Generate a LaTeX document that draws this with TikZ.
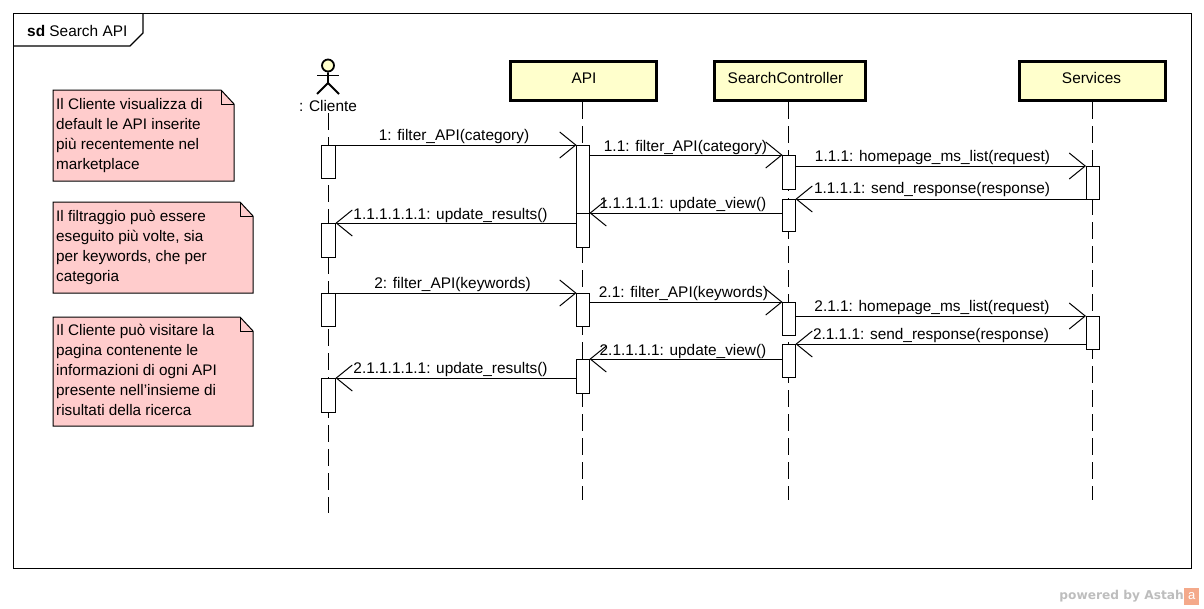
\documentclass[tikz,border=0pt]{standalone}
\usepackage{fontspec}
\setmainfont{Liberation Sans}
\newfontfamily\footfont{DejaVu Sans}
\usetikzlibrary{arrows.meta,positioning}
\definecolor{headyellow}{HTML}{FFFFCC}
\definecolor{notepink}{HTML}{FFCCCC}
\definecolor{footgray}{HTML}{BDBDBD}
\definecolor{logoorange}{HTML}{F4A98A}

\begin{document}
\begin{tikzpicture}[
  x=1pt, y=-1pt,
  header/.style={draw=black, line width=3pt, fill=headyellow, minimum height=39pt,
                 inner sep=0pt, outer sep=0pt},
  lifeline/.style={draw=black, line width=1pt, dash pattern=on 17pt off 7pt},
  act/.style={draw=black, line width=1pt, fill=white, anchor=north, inner sep=0pt, outer sep=0pt, minimum width=13pt},
  arr/.style={-{Straight Barb[length=16pt,width=26pt,line width=1pt]}, line width=1pt, draw=black},
  msg/.style={inner sep=0pt, font=\fontsize{15.4}{17}\selectfont},
  notebox/.style={draw=black, line width=1pt, fill=notepink},
  notetext/.style={anchor=north west, inner sep=0pt, align=left, font=\fontsize{15.3}{20}\selectfont}
]
\useasboundingbox (0,0) rectangle (1204,608);

% frame and its tab
\draw[line width=1.2pt] (13.5,13.5) rectangle (1191.5,568.5);
\draw[line width=1.2pt] (143,13.5) -- (143,33) -- (130,46) -- (13.5,46);
\node[msg, anchor=base west] (frametitle) at (27,36) {\textbf{sd} Search API};

% notes
\draw[notebox] (53,90) -- (221,90) -- (234,104) -- (234,181) -- (53,181) -- cycle;
\draw[line width=1pt] (221,90) -- (221,104) -- (234,104);
\node[notetext] (noteview) at (56,98) {Il Cliente visualizza di\\default le API inserite\\più recentemente nel\\marketplace};
\draw[notebox] (53,202) -- (240,202) -- (253,216) -- (253,293) -- (53,293) -- cycle;
\draw[line width=1pt] (240,202) -- (240,216) -- (253,216);
\node[notetext] (notefilter) at (56,210) {Il filtraggio può essere\\eseguito più volte, sia\\per keywords, che per\\categoria};
\draw[notebox] (53,317) -- (240,317) -- (253,331) -- (253,426) -- (53,426) -- cycle;
\draw[line width=1pt] (240,317) -- (240,331) -- (253,331);
\node[notetext] (notevisit) at (56,324) {Il Cliente può visitare la\\pagina contenente le\\informazioni di ogni API\\presente nell'insieme di\\risultati della ricerca};

% actor
\node[draw=black, line width=1.8pt, fill=headyellow, circle, minimum size=12pt, inner sep=0pt] (clienthead) at (328,65.5) {};
\draw[line width=1.8pt] (clienthead.south) -- (328,83) -- (317,94);
\draw[line width=1.8pt] (328,83) -- (339,94);
\draw[line width=1.8pt] (317,75.5) -- (339,75.5);
\node[msg] (cliente) at (328,106) {: Cliente};

% lifeline heads
\node[header, minimum width=146pt] (api) at (583,80.5) {};
\node[msg] (apilabel) at (584,78) {API};
\node[header, minimum width=151pt] (search) at (789.5,80.5) {};
\node[msg] (searchlabel) at (785.5,78) {SearchController};
\node[header, minimum width=146pt] (services) at (1092,80.5) {};
\node[msg] (serviceslabel) at (1091.5,78) {Services};

\coordinate (clientetop) at (328,113);
\coordinate (clienteend) at (328,513);
\coordinate (apitop) at (582,102);
\coordinate (apiend) at (582,500);
\coordinate (searchtop) at (788,102);
\coordinate (searchend) at (788,500);
\coordinate (servicestop) at (1092,102);
\coordinate (servicesend) at (1092,500);
\draw[lifeline] (clientetop) -- (clienteend);
\draw[lifeline] (apitop) -- (apiend);
\draw[lifeline] (searchtop) -- (searchend);
\draw[lifeline] (servicestop) -- (servicesend);

% activations
\node[act, minimum width=14pt, minimum height=33pt] (clientA) at (328.5,145) {};
\node[act, minimum width=14pt, minimum height=34pt] (clientB) at (328.5,223) {};
\node[act, minimum width=14pt, minimum height=33pt] (clientC) at (328.5,293) {};
\node[act, minimum width=14pt, minimum height=34pt] (clientD) at (328.5,378) {};
\node[act, minimum height=68pt] (apiA) at (583,145) {};
\node[act, minimum height=34pt] (apiB) at (583,213) {};
\node[act, minimum height=33pt] (apiC) at (583,293) {};
\node[act, minimum height=34pt] (apiD) at (583,359) {};
\node[act, minimum height=34pt] (searchA) at (789,155) {};
\node[act, minimum height=32pt] (searchB) at (789,199) {};
\node[act, minimum height=33pt] (searchC) at (789,302) {};
\node[act, minimum height=33pt] (searchD) at (789,344) {};
\node[act, minimum height=33pt] (servicesA) at (1092.5,166) {};
\node[act, minimum height=33pt] (servicesB) at (1092.5,316) {};

% messages
\draw[arr] (clientA.north east) -- (apiA.north west);
\draw[arr] (apiA.east |- searchA.north) -- (searchA.north west);
\draw[arr] (searchA.east |- servicesA.north) -- (servicesA.north west);
\draw[arr] (servicesA.west |- searchB.north) -- (searchB.north east);
\draw[arr] (searchB.west |- apiB.north) -- (apiB.north east);
\draw[arr] (apiB.west |- clientB.north) -- (clientB.north east);
\draw[arr] (clientC.north east) -- (apiC.north west);
\draw[arr] (apiC.east |- searchC.north) -- (searchC.north west);
\draw[arr] (searchC.east |- servicesB.north) -- (servicesB.north west);
\draw[arr] (servicesB.west |- searchD.north) -- (searchD.north east);
\draw[arr] (searchD.west |- apiD.north) -- (apiD.north east);
\draw[arr] (apiD.west |- clientD.north) -- (clientD.north east);

\node[msg] (msgA) at (454,136.5) {1: filter\_API(category)};
\node[msg] (msgB) at (685.5,147.5) {1.1: filter\_API(category)};
\node[msg] (msgC) at (932.5,157.5) {1.1.1: homepage\_ms\_list(request)};
\node[msg] (msgD) at (932,189.5) {1.1.1.1: send\_response(response)};
\node[msg] (msgE) at (683,204.5) {1.1.1.1.1: update\_view()};
\node[msg] (msgF) at (450.5,215.5) {1.1.1.1.1.1: update\_results()};
\node[msg] (msgG) at (452.5,284.5) {2: filter\_API(keywords)};
\node[msg] (msgH) at (683.5,293.5) {2.1: filter\_API(keywords)};
\node[msg] (msgI) at (932,307.5) {2.1.1: homepage\_ms\_list(request)};
\node[msg] (msgJ) at (931,335.5) {2.1.1.1: send\_response(response)};
\node[msg] (msgK) at (683,351.5) {2.1.1.1.1: update\_view()};
\node[msg] (msgL) at (450.5,369.5) {2.1.1.1.1.1: update\_results()};

% footer
\node[inner sep=0pt, anchor=east, text=footgray, font=\footfont\bfseries\fontsize{12.2}{14}\selectfont] (powered) at (1184,596) {powered by Astah};
\node[right=0pt of powered, fill=logoorange, text=white, minimum width=15pt, minimum height=17pt, inner sep=0pt, font=\fontsize{13}{14}\selectfont] (logo) {a};
\end{tikzpicture}
\end{document}
